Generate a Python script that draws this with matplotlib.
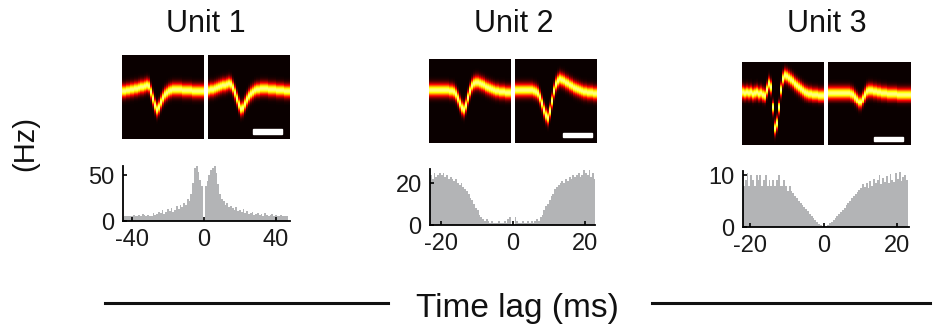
import numpy as np
import matplotlib
matplotlib.use("Agg")
import matplotlib.pyplot as plt
from matplotlib.patches import Rectangle

plt.rcParams['font.family'] = ['Liberation Sans', 'DejaVu Sans']
plt.rcParams['axes.unicode_minus'] = False

# ---- waveform traces (vertical position of band, 0 = top, 1 = bottom), 41 columns per image
u1_left = [0.43, 0.43, 0.42, 0.42, 0.41, 0.41, 0.40, 0.40, 0.39, 0.38, 0.38, 0.37, 0.36,
           0.37, 0.44, 0.52, 0.60, 0.65, 0.62, 0.56, 0.51, 0.47, 0.45, 0.43, 0.42,
           0.41, 0.41, 0.41, 0.41, 0.41, 0.42, 0.42, 0.42, 0.42, 0.42, 0.43, 0.43, 0.43, 0.43, 0.43, 0.43]
u1_right = [0.42, 0.41, 0.41, 0.40, 0.39, 0.38, 0.37, 0.36, 0.36, 0.35, 0.34,
            0.35, 0.39, 0.45, 0.52, 0.59, 0.64, 0.63, 0.58, 0.53, 0.49, 0.46, 0.44, 0.42,
            0.41, 0.41, 0.40, 0.40, 0.40, 0.40, 0.41, 0.41, 0.41, 0.41, 0.42, 0.42, 0.42, 0.42, 0.43, 0.43, 0.43]
u2_left = [0.37, 0.37, 0.37, 0.37, 0.37, 0.37, 0.37, 0.37, 0.37, 0.37, 0.38, 0.38, 0.39,
           0.42, 0.47, 0.53, 0.58, 0.60, 0.55, 0.46, 0.38, 0.32, 0.29, 0.28, 0.28, 0.29,
           0.30, 0.31, 0.33, 0.34, 0.35, 0.36, 0.37, 0.38,
           0.38, 0.39, 0.39, 0.39, 0.40, 0.40, 0.40]
u2_right = [0.37, 0.37, 0.37, 0.37, 0.37, 0.37, 0.37, 0.37, 0.37, 0.38, 0.39, 0.41,
            0.46, 0.53, 0.61, 0.67, 0.70, 0.62, 0.50, 0.38, 0.30, 0.26, 0.24, 0.25, 0.26,
            0.28, 0.29, 0.31, 0.32, 0.34, 0.35, 0.36, 0.37, 0.38,
            0.39, 0.39, 0.40, 0.40, 0.40, 0.41, 0.41]
u3_left = [0.36, 0.37, 0.36, 0.37, 0.36, 0.38, 0.37, 0.36, 0.38, 0.37, 0.39,
           0.40, 0.33, 0.26, 0.30, 0.55, 0.80, 0.74, 0.55, 0.33, 0.20, 0.16, 0.17, 0.19,
           0.21, 0.23, 0.26, 0.28, 0.30, 0.32, 0.34, 0.36, 0.37, 0.38,
           0.38, 0.39, 0.39, 0.39, 0.40, 0.40, 0.40]
u3_right = [0.37, 0.37, 0.37, 0.37, 0.37, 0.37, 0.37, 0.37, 0.37, 0.37, 0.37, 0.38, 0.39,
            0.42, 0.45, 0.48, 0.48, 0.44, 0.39, 0.35, 0.34, 0.34, 0.35, 0.35, 0.36, 0.36,
            0.37, 0.37, 0.37, 0.38, 0.38, 0.38, 0.38, 0.38, 0.39, 0.39, 0.39, 0.39, 0.39, 0.39, 0.39]

# ---- cross-correlogram counts (Hz)
u1_lags = list(range(-45, 47))
u1_counts = [4, 6, 5, 6, 5, 6, 7, 5, 6, 7, 6, 8, 7, 6, 7, 5, 6, 9, 7, 8,
             10, 9, 12, 8, 10, 13, 11, 14, 10, 12, 16, 13, 18, 15, 20,
             17, 24, 22, 30, 42, 58, 60, 54, 45, 38,
             0,
             38, 44, 50, 56, 58, 60, 52, 40, 30, 24, 22, 18, 20, 15, 16,
             14, 12, 15, 11, 12, 10, 13, 9, 11, 8, 9, 10, 7, 8, 9,
             7, 8, 6, 9, 7, 6, 7, 8, 5, 7, 6, 5, 7, 6, 5, 6]

u23_lags = [-22.75 + 0.5 * k for k in range(92)]
u2_counts = [24, 22, 25, 23, 24, 25, 24, 25, 23, 24, 22, 23,
             22, 21, 22, 20, 19, 20, 18, 17, 16, 15, 13, 12,
             10, 8, 7, 5, 4, 3, 2, 3, 2, 1, 2, 1,
             1, 1, 2, 1, 1, 2, 1, 3, 4, 0,
             0, 4, 2, 1, 1, 2, 1, 1, 2, 1,
             2, 1, 2, 3, 2, 4, 5, 7, 9, 10, 12, 14,
             15, 17, 18, 19, 20, 21, 20, 22, 21, 23, 22, 24,
             23, 24, 25, 23, 24, 26, 25, 24, 26, 23, 25, 22]
u3_counts = [9, 10, 8, 9, 10.5, 8, 10, 9, 8, 10, 9, 10,
             8, 9, 10, 8, 9, 8, 9, 8, 9, 10, 8, 8,
             9, 8, 7, 8, 7, 6.5, 6, 5.5, 5, 4.6, 4.2, 3.8,
             3.4, 3, 2.6, 2.2, 1.8, 1.4, 1.0, 0.6, 0.3, 0.1,
             0.1, 0.2, 0.4, 0.7, 1.0, 1.3, 1.7, 2.1, 2.5, 2.9,
             3.3, 3.7, 4.2, 4.6, 5.0, 5.5, 5.9, 6.3, 6.8, 7.2, 7.5, 8.2,
             7.8, 8.5, 7.6, 8.8, 8.0, 9.2, 8.4, 9.0, 10, 8.2, 9.4, 8.6,
             9.8, 8.5, 10.2, 9.1, 8.7, 10.4, 9.2, 10.6, 8.8, 9.6, 10.1, 9.0]

titles = ["Unit 1", "Unit 2", "Unit 3"]

W, H = 937, 328
fig = plt.figure(figsize=(W / 100, H / 100), dpi=100)


def fx(px):
    return px / W


def fy(px):
    return 1 - px / H


def band_image(trace, nrows=84, sigma=0.052):
    rows = (np.arange(nrows) + 0.5) / nrows
    c = np.array(trace)[None, :]
    return np.exp(-0.5 * ((rows[:, None] - c) / sigma) ** 2)


def waveform_ax(x0, x1, ytop, ybot, trace, bar=None):
    ax = fig.add_axes([fx(x0), fy(ybot), fx(x1 - x0), (ybot - ytop) / H])
    ax.imshow(band_image(trace), cmap='hot', vmin=0, vmax=1.15,
              aspect='auto', interpolation='nearest')
    ax.set_axis_off()
    if bar is not None:
        ax.add_patch(Rectangle((bar[0], bar[1]), bar[2], bar[3],
                               transform=ax.transAxes, color='white', zorder=5))
    return ax


# heatmap panels: (left x0,x1), (right x0,x1), top, bottom, scale bar
img_layout = [
    ((122, 204), (208, 290), 55, 139, (0.55, 0.065, 0.35, 0.055)),
    ((429, 511), (515, 597), 59, 143, (0.585, 0.07, 0.355, 0.05)),
    ((742, 824), (828, 910), 62, 145, (0.56, 0.05, 0.355, 0.05)),
]
traces = [(u1_left, u1_right), (u2_left, u2_right), (u3_left, u3_right)]
for (lx, rx, yt, yb, bar), (tl, tr) in zip(img_layout, traces):
    waveform_ax(lx[0], lx[1], yt, yb, tl)
    waveform_ax(rx[0], rx[1], yt, yb, tr, bar)

# correlograms
hist_layout = [
    (123, 290, 166, 221, (-45, 47.8), 60, [-40, 0, 40], [0, 50]),
    (430, 595, 169, 225, (-23, 22.8), 26.7, [-20, 0, 20], [0, 20]),
    (743, 909, 171, 227, (-22, 23.3), 10.8, [-20, 0, 20], [0, 10]),
]
hist_data = [(u1_lags, u1_counts, 1.0), (u23_lags, u2_counts, 0.5), (u23_lags, u3_counts, 0.5)]
for (x0, x1, yt, yb, xl, ytop, xt, yt_ticks), (lags, counts, w) in zip(hist_layout, hist_data):
    ax = fig.add_axes([fx(x0), fy(yb), fx(x1 - x0), (yb - yt) / H])
    ax.bar(lags, counts, width=w, color='#b3b4b6', edgecolor='none')
    ax.set_xlim(*xl)
    ax.set_ylim(0, ytop)
    ax.set_xticks(xt)
    ax.set_yticks(yt_ticks)
    for s in ['top', 'right']:
        ax.spines[s].set_visible(False)
    for s in ['left', 'bottom']:
        ax.spines[s].set_linewidth(1.3)
    ax.tick_params(direction='in', length=3, width=1.2, labelsize=17,
                   labelcolor='#1a1a1a')
    ax.tick_params(axis='x', pad=6)
    ax.tick_params(axis='y', pad=6)

for t, cx in zip(titles, [206, 514, 827]):
    fig.text(fx(cx), fy(24), t, ha='center', va='center', fontsize=22, color='#111111')

fig.text(fx(25), fy(144), "(Hz)", rotation=90, ha='center', va='center',
         fontsize=21, color='#111111')

fig.text(fx(517), fy(317), "Time lag (ms)", ha='center', va='baseline',
         fontsize=24, color='#111111')
fig.add_artist(plt.Line2D([fx(105), fx(388)], [fy(303), fy(303)], color='#111111', lw=2.2))
fig.add_artist(plt.Line2D([fx(652), fx(930)], [fy(303), fy(303)], color='#111111', lw=2.2))

fig.savefig("out.png", dpi=100)
